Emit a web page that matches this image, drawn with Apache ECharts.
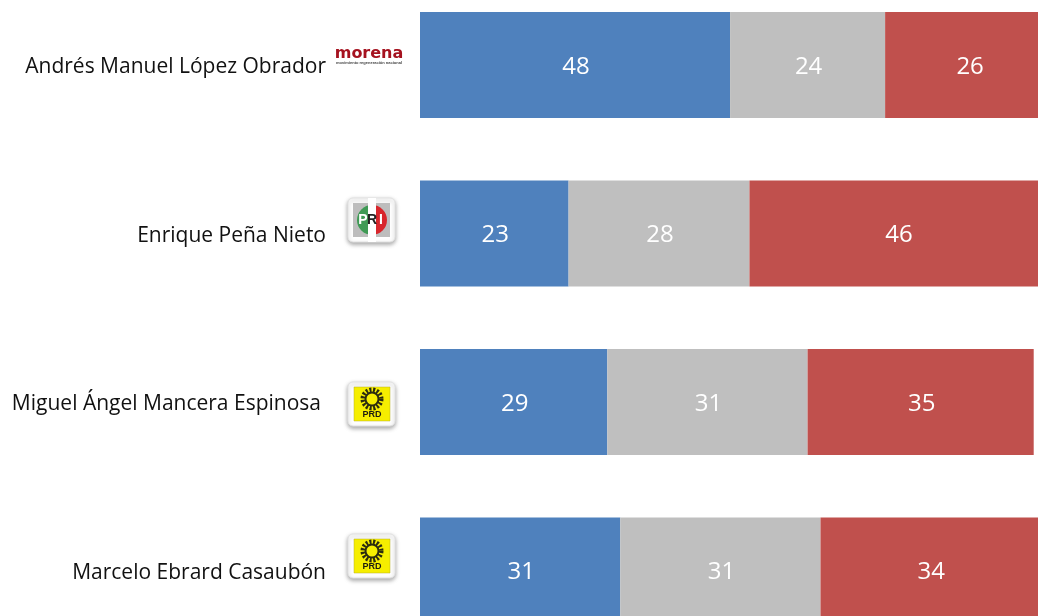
<!DOCTYPE html>
<html>
<head>
<meta charset="utf-8">
<style>
html, body { margin: 0; padding: 0; background: #fff; overflow: hidden; }
#chart { width: 1038px; height: 616px; }
</style>
<script src="https://cdn.jsdelivr.net/npm/echarts@6/dist/echarts.min.js"></script>
</head>
<body>
<div id="chart"></div>
<script>
var candidates = ['Andrés Manuel López Obrador', 'Enrique Peña Nieto', 'Miguel Ángel Mancera Espinosa', 'Marcelo Ebrard Casaubón'];
var favorable = [48, 23, 29, 31];
var neutral = [24, 28, 31, 31];
var unfavorable = [26, 46, 35, 34];

var labelFont = 'Open Sans';

function barSeries(name, values, color) {
	return {
		name: name,
		type: 'bar',
		stack: 'total',
		barWidth: 106,
		data: values,
		itemStyle: { color: color },
		label: {
			show: true,
			position: 'inside',
			offset: [1, 2],
			color: '#fff',
			fontSize: 24,
			fontFamily: labelFont
		}
	};
}

// small party badges next to the names
function badge(x, y, children) {
	return {
		type: 'group',
		x: x,
		y: y,
		children: [{
			type: 'rect',
			shape: { x: 0, y: 0, width: 47, height: 44, r: 5 },
			style: { fill: '#fff', stroke: '#e2e2e2', lineWidth: 1, shadowBlur: 4, shadowColor: 'rgba(0,0,0,0.35)', shadowOffsetX: 0, shadowOffsetY: 2 }
		}].concat(children)
	};
}

function priBadge(x, y) {
	return badge(x, y, [
		{ type: 'rect', shape: { x: 5, y: 5, width: 37, height: 34 }, style: { fill: '#bdbdbd' } },
		{ type: 'sector', shape: { cx: 24, cy: 22, r: 15, r0: 0, startAngle: Math.PI / 2, endAngle: Math.PI * 1.5 }, style: { fill: '#3f9a55' } },
		{ type: 'sector', shape: { cx: 24, cy: 22, r: 15, r0: 0, startAngle: -Math.PI / 2, endAngle: Math.PI / 2 }, style: { fill: '#d8262c' } },
		{ type: 'rect', shape: { x: 20, y: 0, width: 8, height: 44 }, style: { fill: '#fff' } },
		{ type: 'text', x: 15, y: 22, style: { text: 'P', fill: '#fff', font: 'bold 14px "Liberation Sans"', align: 'center', verticalAlign: 'middle' } },
		{ type: 'text', x: 24, y: 22, style: { text: 'R', fill: '#222', font: 'bold 14px "Liberation Sans"', align: 'center', verticalAlign: 'middle' } },
		{ type: 'text', x: 33, y: 22, style: { text: 'I', fill: '#fff', font: 'bold 14px "Liberation Sans"', align: 'center', verticalAlign: 'middle' } }
	]);
}

function prdBadge(x, y) {
	return badge(x, y, [
		{ type: 'rect', shape: { x: 6, y: 5, width: 36, height: 34 }, style: { fill: '#f6ee00', stroke: '#b5ad20', lineWidth: 0.5 } },
		{ type: 'circle', shape: { cx: 24, cy: 17, r: 9 }, style: { fill: 'none', stroke: '#2b2b10', lineWidth: 5, lineDash: [2, 1.6] } },
		{ type: 'circle', shape: { cx: 24, cy: 17, r: 6.5 }, style: { fill: '#f6ee00', stroke: '#2b2b10', lineWidth: 2 } },
		{ type: 'text', x: 24, y: 33, style: { text: 'PRD', fill: '#1d1d10', font: 'bold 9px "Liberation Sans"', align: 'center', verticalAlign: 'middle' } }
	]);
}

var myChart = echarts.init(document.getElementById('chart'));
var option = {
	animation: false,
	backgroundColor: '#fff',
	grid: { left: 420, top: -19.25, width: 646, height: 674, outerBoundsMode: 'none' },
	xAxis: { type: 'value', min: 0, max: 100, show: false },
	yAxis: {
		type: 'category',
		inverse: true,
		data: candidates,
		axisLine: { show: false },
		axisTick: { show: false },
		axisLabel: {
			margin: 94,
			color: '#111',
			fontSize: 21,
			fontFamily: labelFont,
			padding: [5, 0, 0, 0],
			formatter: function (value) {
				return value.indexOf('Miguel') === 0 ? '{shift|' + value + '}' : value;
			},
			rich: { shift: { color: '#111', fontSize: 21, fontFamily: labelFont, padding: [0, 5, 0, 0] } }
		}
	},
	series: [
		barSeries('A favor', favorable, '#4f81bd'),
		barSeries('Neutral', neutral, '#bfbfbf'),
		barSeries('En contra', unfavorable, '#c0504d')
	],
	graphic: [
		{ type: 'text', x: 369, y: 54, style: { text: 'morena', fill: '#a5121f', font: 'bold 16px "DejaVu Sans"', align: 'center', verticalAlign: 'middle' } },
		{ type: 'text', x: 369, y: 63, style: { text: 'movimiento regeneración nacional', fill: '#444', font: 'bold 4px "Liberation Sans"', align: 'center', verticalAlign: 'middle' } },
		priBadge(348, 198),
		prdBadge(348, 382),
		prdBadge(348, 534)
	]
};
myChart.setOption(option);
</script>
</body>
</html>
